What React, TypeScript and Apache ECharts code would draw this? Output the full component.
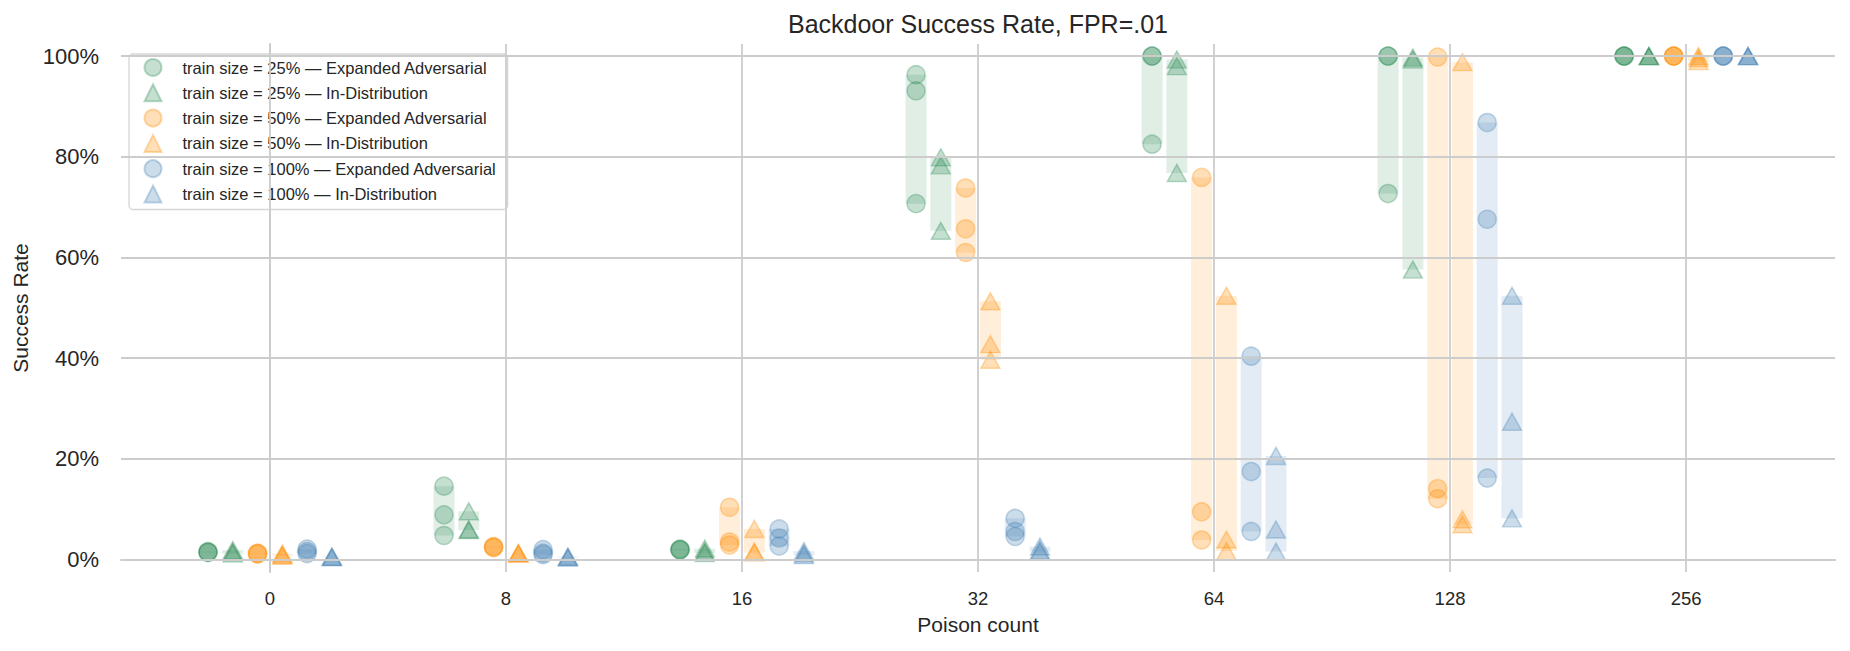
import React, { useEffect, useRef } from 'react';
import * as echarts from 'echarts';

// ---- data (success rate in %, three runs per poison count) ----
const categories = ['0', '8', '16', '32', '64', '128', '256'];
const yTicks = [0, 20, 40, 60, 80, 100];

const ts25Adversarial = [[1.6, 1.5, 1.4], [14.6, 8.9, 4.8], [2.1, 2.0, 1.9], [96.3, 93.1, 70.7], [100, 100, 82.5], [100, 100, 72.7], [100, 100, 100]];
const ts25InDist = [[1.9, 1.5, 1.2], [9.6, 6.0, 5.9], [2.2, 1.6, 1.3], [79.9, 78.3, 65.3], [99.3, 98.0, 76.8], [99.7, 99.3, 57.6], [100, 100, 100]];
const ts50Adversarial = [[1.3, 1.2, 1.1], [2.6, 2.5, 2.4], [10.4, 3.5, 2.9], [73.8, 65.7, 61.0], [75.9, 9.5, 3.9], [99.8, 14.1, 12.1], [100, 100, 100]];
const ts50InDist = [[1.2, 0.9, 0.8], [1.3, 1.2, 1.2], [6.1, 1.6, 1.4], [51.3, 42.8, 39.7], [52.4, 4.0, 1.7], [98.8, 8.0, 7.0], [100, 99.6, 99.0]];
const ts100Adversarial = [[2.1, 1.6, 1.2], [2.0, 1.3, 1.0], [6.1, 4.3, 2.7], [8.2, 5.6, 4.6], [40.4, 17.5, 5.6], [86.8, 67.6, 16.2], [100, 100, 100]];
const ts100InDist = [[0.6, 0.5, 0.5], [0.6, 0.5, 0.4], [1.7, 1.2, 0.9], [2.6, 1.9, 1.6], [20.6, 6.0, 1.6], [52.4, 27.4, 8.2], [100, 100, 100]];

const seriesNames = [
  'train size = 25% — Expanded Adversarial',
  'train size = 25% — In-Distribution',
  'train size = 50% — Expanded Adversarial',
  'train size = 50% — In-Distribution',
  'train size = 100% — Expanded Adversarial',
  'train size = 100% — In-Distribution',
];
const seriesValues = [ts25Adversarial, ts25InDist, ts50Adversarial, ts50InDist, ts100Adversarial, ts100InDist];

// ---- styles ----
const FONT = '"Liberation Sans", Arial, Helvetica, sans-serif';
const TEXT = '#262626';
const GRID = '#cccccc';
const RGB = ['46,139,87', '46,139,87', '255,140,0', '255,140,0', '70,130,180', '70,130,180'];
const SYMBOLS = ['circle', 'triangle', 'circle', 'triangle', 'circle', 'triangle'];
const DODGE = 0.105;
const BAR_W = 0.089;

export default function App() {
  const ref = useRef<HTMLDivElement>(null);

  useEffect(() => {
    document.body.style.margin = '0';
    if (!ref.current) return;
    const chart = echarts.init(ref.current, undefined, { renderer: 'svg' });

    const series: any[] = [];
    // grid lines
    series.push({
      type: 'line',
      data: [],
      z: 1,
      silent: true,
      markLine: {
        silent: true,
        symbol: ['none', 'none'],
        label: { show: false },
        lineStyle: { color: GRID, width: 1.8, type: 'solid' },
        emphasis: { disabled: true },
        data: [
          ...categories.map((_, i) => ({ xAxis: i })),
          ...yTicks.map((v) => ({ yAxis: v })),
        ],
      },
    });

    seriesValues.forEach((vals, gi) => {
      const off = (gi - 2.5) * DODGE;
      const rgb = RGB[gi];
      // range bars
      series.push({
        type: 'custom',
        name: seriesNames[gi] + ' range',
        z: 2,
        silent: true,
        encode: { x: 0, y: [1, 2] },
        data: vals.map((v, ci) => [ci + off, Math.min(...v), Math.max(...v)]),
        renderItem: (params: any, api: any) => {
          const x = api.value(0);
          const lo = api.value(1);
          const hi = api.value(2);
          const pTop = api.coord([x, hi]);
          const pBot = api.coord([x, lo]);
          const w = api.size([BAR_W, 0])[0];
          return {
            type: 'rect',
            shape: { x: pTop[0] - w / 2, y: pTop[1], width: w, height: pBot[1] - pTop[1] },
            style: { fill: `rgba(${rgb},0.15)` },
          };
        },
      });
      // points
      const pts: number[][] = [];
      vals.forEach((v, ci) => v.forEach((y) => pts.push([ci + off, y])));
      series.push({
        type: 'scatter',
        name: seriesNames[gi],
        z: 3,
        symbol: SYMBOLS[gi],
        symbolSize: SYMBOLS[gi] === 'circle' ? 18 : [19, 17],
        itemStyle: {
          color: `rgba(${rgb},0.35)`,
          borderColor: `rgba(${rgb},0.4)`,
          borderWidth: 1.5,
        },
        emphasis: { disabled: true },
        data: pts,
      });
    });

    chart.setOption({
      animation: false,
      grid: { left: 121, right: 15, top: 44, bottom: 79, containLabel: false, outerBoundsMode: 'none' },
      graphic: [
        {
          type: 'text',
          x: 978,
          y: 24,
          style: {
            text: 'Backdoor Success Rate, FPR=.01',
            fontSize: 25,
            fontFamily: FONT,
            fill: TEXT,
            textAlign: 'center',
            textVerticalAlign: 'middle',
          },
        },
      ],
      legend: {
        data: seriesNames.map((n, i) => ({ name: n, icon: SYMBOLS[i] })),
        orient: 'vertical',
        left: 129,
        top: 54,
        itemWidth: 17,
        itemHeight: 17,
        itemGap: 6.3,
        symbolKeepAspect: true,
        padding: [4, 11, 6, 14.5],
        backgroundColor: 'rgba(255,255,255,0.8)',
        borderColor: '#d6d6d6',
        borderWidth: 1.3,
        borderRadius: 4,
        selectedMode: false,
        textStyle: { fontSize: 16.5, color: TEXT, fontFamily: FONT, padding: [0, 0, 0, 16] },
      },
      xAxis: {
        type: 'value',
        min: -0.631,
        max: 6.631,
        name: 'Poison count',
        nameLocation: 'middle',
        nameGap: 42,
        nameTextStyle: { fontSize: 21, color: TEXT, fontFamily: FONT },
        axisLine: { show: true, lineStyle: { color: GRID, width: 2 } },
        axisTick: { show: false },
        splitLine: { show: false },
        axisLabel: {
          customValues: categories.map((_, i) => i),
          formatter: (v: number) => (Number.isInteger(v) && categories[v] !== undefined ? categories[v] : ''),
          fontSize: 18.5,
          color: TEXT,
          fontFamily: FONT,
          margin: 17,
        },
      },
      yAxis: {
        type: 'value',
        min: -2.45,
        max: 102.4,
        name: 'Success Rate',
        nameLocation: 'middle',
        nameGap: 90,
        nameTextStyle: { fontSize: 21, color: TEXT, fontFamily: FONT },
        axisLine: { show: true, lineStyle: { color: GRID, width: 2 } },
        axisTick: { show: false },
        splitLine: { show: false },
        axisLabel: {
          customValues: yTicks,
          formatter: (v: number) => (yTicks.includes(v) ? `${v}%` : ''),
          fontSize: 22,
          color: TEXT,
          fontFamily: FONT,
          margin: 22,
        },
      },
      series,
    });

    return () => chart.dispose();
  }, []);

  return <div ref={ref} style={{ width: 1850, height: 651 }} />;
}
